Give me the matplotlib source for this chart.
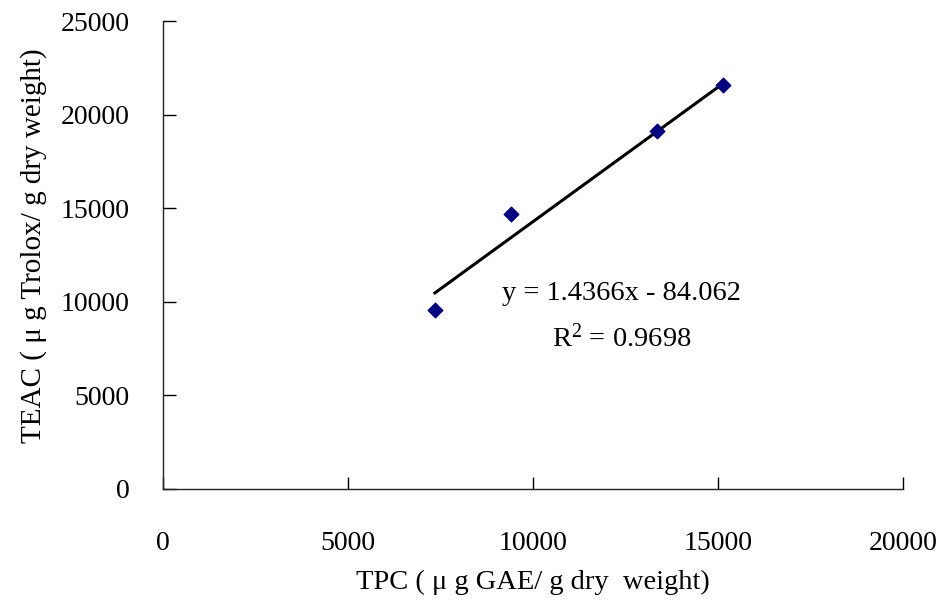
import numpy as np
import matplotlib.pyplot as plt

plt.rcParams['font.family'] = ['Liberation Serif', 'Noto Sans CJK TC']
plt.rcParams['mathtext.fontset'] = 'custom'
plt.rcParams['mathtext.rm'] = 'Liberation Serif'

# TPC vs TEAC data points
tpc = [7350, 9400, 13350, 15130]
teac = [9560, 14690, 19120, 21580]

# trendline from the chart's equation
slope = 1.4366
intercept = -84.062
eq_text = "y = 1.4366x - 84.062"
r2_text = "R$\\mathregular{^2}$ = 0.9698"

xticks = [0, 5000, 10000, 15000, 20000]
yticks = [0, 5000, 10000, 15000, 20000, 25000]

fig = plt.figure(figsize=(9.41, 6.04), dpi=100)
ax = fig.add_axes([0.1732, 0.1904, 0.7864, 0.7748])

tx = np.array([min(tpc), max(tpc)])
ax.plot(tx, slope * tx + intercept, color="black", lw=2.2, zorder=2)
ax.scatter(tpc, teac, marker="D", s=55, color="#000080", zorder=3)

ax.set_xlim(0, 20000)
ax.set_ylim(0, 25000)
ax.set_xticks(xticks)
ax.set_yticks(yticks)
ax.spines["top"].set_visible(False)
ax.spines["right"].set_visible(False)
for s in ["left", "bottom"]:
    ax.spines[s].set_linewidth(1)
    ax.spines[s].set_color("#222222")
ax.tick_params(axis="x", direction="in", length=9, width=1, pad=30, labelsize=20)
ax.tick_params(axis="y", direction="in", length=9, width=1, pad=24, labelsize=20)

ax.text(12400, 10420, eq_text, ha="center", va="center", fontsize=20.5)
ax.text(12400, 8070, r2_text, ha="center", va="center", fontsize=20.5)

ax.set_xlabel("TPC ( μ g GAE/ g dry  weight)", fontsize=20.5, labelpad=10)
ax.set_ylabel("TEAC ( μ g Trolox/ g dry weight)", fontsize=21)
ax.yaxis.set_label_coords(-0.157, 0.519)

plt.savefig("out.png", dpi=100)
